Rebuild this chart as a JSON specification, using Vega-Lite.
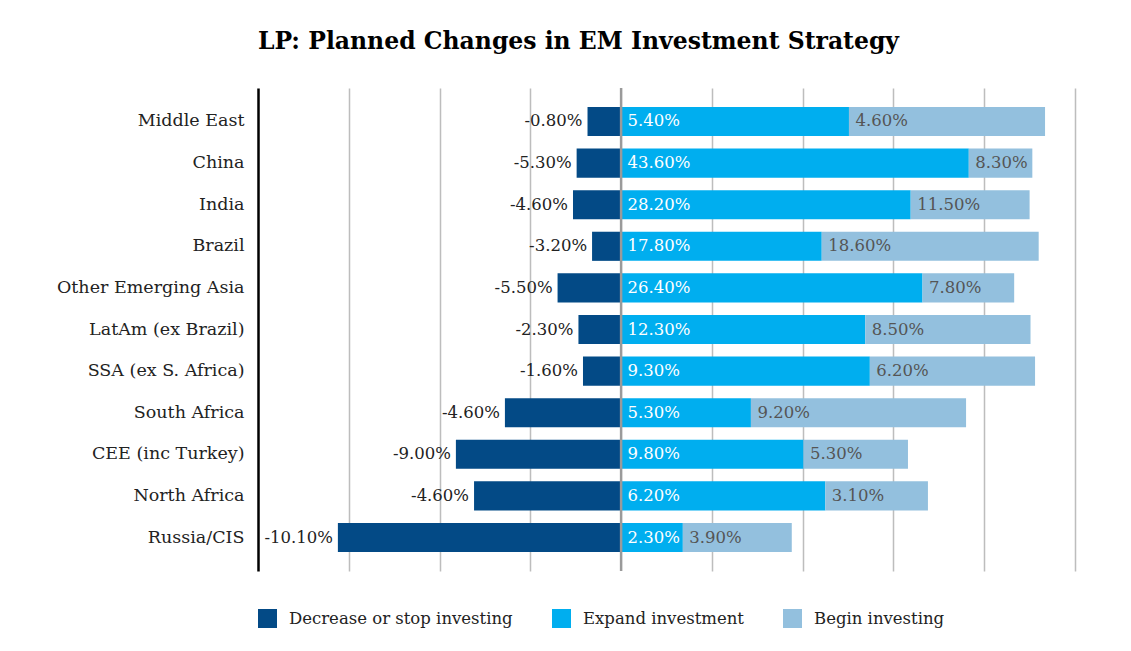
{
  "$schema": "https://vega.github.io/schema/vega-lite/v6.json",
  "autosize": {"type": "none"},
  "padding": {"left": 258, "top": 88, "right": 56, "bottom": 80},
  "width": 817,
  "height": 483,
  "background": "white",
  "title": {
    "text": "LP: Planned Changes in EM Investment Strategy",
    "anchor": "start",
    "frame": "group",
    "font": "DejaVu Serif",
    "fontSize": 23.5,
    "fontWeight": "bold",
    "color": "#000000",
    "baseline": "alphabetic",
    "offset": 14
  },
  "config": {
    "view": {"stroke": null},
    "font": "DejaVu Serif"
  },
  "data": {
    "values": [
      {"region": "Middle East", "series": "Decrease or stop investing", "order": 1, "value": -3.7, "label": "-0.80%"},
      {"region": "Middle East", "series": "Expand investment", "order": 2, "value": 25.1, "label": "5.40%"},
      {"region": "Middle East", "series": "Begin investing", "order": 3, "value": 21.6, "label": "4.60%"},
      {"region": "China", "series": "Decrease or stop investing", "order": 1, "value": -4.9, "label": "-5.30%"},
      {"region": "China", "series": "Expand investment", "order": 2, "value": 38.3, "label": "43.60%"},
      {"region": "China", "series": "Begin investing", "order": 3, "value": 7.0, "label": "8.30%"},
      {"region": "India", "series": "Decrease or stop investing", "order": 1, "value": -5.3, "label": "-4.60%"},
      {"region": "India", "series": "Expand investment", "order": 2, "value": 31.9, "label": "28.20%"},
      {"region": "India", "series": "Begin investing", "order": 3, "value": 13.1, "label": "11.50%"},
      {"region": "Brazil", "series": "Decrease or stop investing", "order": 1, "value": -3.2, "label": "-3.20%"},
      {"region": "Brazil", "series": "Expand investment", "order": 2, "value": 22.1, "label": "17.80%"},
      {"region": "Brazil", "series": "Begin investing", "order": 3, "value": 23.9, "label": "18.60%"},
      {"region": "Other Emerging Asia", "series": "Decrease or stop investing", "order": 1, "value": -7.0, "label": "-5.50%"},
      {"region": "Other Emerging Asia", "series": "Expand investment", "order": 2, "value": 33.2, "label": "26.40%"},
      {"region": "Other Emerging Asia", "series": "Begin investing", "order": 3, "value": 10.1, "label": "7.80%"},
      {"region": "LatAm (ex Brazil)", "series": "Decrease or stop investing", "order": 1, "value": -4.7, "label": "-2.30%"},
      {"region": "LatAm (ex Brazil)", "series": "Expand investment", "order": 2, "value": 26.9, "label": "12.30%"},
      {"region": "LatAm (ex Brazil)", "series": "Begin investing", "order": 3, "value": 18.2, "label": "8.50%"},
      {"region": "SSA (ex S. Africa)", "series": "Decrease or stop investing", "order": 1, "value": -4.2, "label": "-1.60%"},
      {"region": "SSA (ex S. Africa)", "series": "Expand investment", "order": 2, "value": 27.4, "label": "9.30%"},
      {"region": "SSA (ex S. Africa)", "series": "Begin investing", "order": 3, "value": 18.2, "label": "6.20%"},
      {"region": "South Africa", "series": "Decrease or stop investing", "order": 1, "value": -12.8, "label": "-4.60%"},
      {"region": "South Africa", "series": "Expand investment", "order": 2, "value": 14.3, "label": "5.30%"},
      {"region": "South Africa", "series": "Begin investing", "order": 3, "value": 23.7, "label": "9.20%"},
      {"region": "CEE (inc Turkey)", "series": "Decrease or stop investing", "order": 1, "value": -18.2, "label": "-9.00%"},
      {"region": "CEE (inc Turkey)", "series": "Expand investment", "order": 2, "value": 20.1, "label": "9.80%"},
      {"region": "CEE (inc Turkey)", "series": "Begin investing", "order": 3, "value": 11.5, "label": "5.30%"},
      {"region": "North Africa", "series": "Decrease or stop investing", "order": 1, "value": -16.2, "label": "-4.60%"},
      {"region": "North Africa", "series": "Expand investment", "order": 2, "value": 22.5, "label": "6.20%"},
      {"region": "North Africa", "series": "Begin investing", "order": 3, "value": 11.3, "label": "3.10%"},
      {"region": "Russia/CIS", "series": "Decrease or stop investing", "order": 1, "value": -31.2, "label": "-10.10%"},
      {"region": "Russia/CIS", "series": "Expand investment", "order": 2, "value": 6.8, "label": "2.30%"},
      {"region": "Russia/CIS", "series": "Begin investing", "order": 3, "value": 12.0, "label": "3.90%"}
    ]
  },
  "transform": [
    {"stack": "value", "groupby": ["region"], "sort": [{"field": "order", "order": "ascending"}], "as": ["x0", "x1"], "offset": "zero"}
  ],
  "encoding": {
    "y": {
      "field": "region",
      "type": "nominal",
      "sort": null,
      "scale": {"paddingInner": 0.3, "paddingOuter": 0.455},
      "axis": {
        "title": null,
        "ticks": false,
        "domainColor": "#000000",
        "domainWidth": 2.5,
        "labelPadding": 14,
        "labelFontSize": 17.5,
        "labelColor": "#222222",
        "labelFont": "DejaVu Serif",
        "labelLimit": 0
      }
    }
  },
  "layer": [
    {
      "mark": {"type": "bar"},
      "encoding": {
        "x": {
          "field": "x0",
          "type": "quantitative",
          "scale": {"domain": [-40, 50], "nice": false, "zero": false},
          "axis": {
            "title": null,
            "values": [-30, -20, -10, 10, 20, 30, 40, 50],
            "grid": true,
            "gridColor": "#bdbdbd",
            "gridWidth": 1.5,
            "labels": false,
            "ticks": false,
            "domain": false
          }
        },
        "x2": {"field": "x1"},
        "color": {
          "field": "series",
          "type": "nominal",
          "scale": {
            "domain": ["Decrease or stop investing", "Expand investment", "Begin investing"],
            "range": ["#034a86", "#00aeef", "#93c0de"]
          },
          "legend": {
            "title": null,
            "orient": "none",
            "legendX": 0,
            "legendY": 521,
            "direction": "horizontal",
            "symbolType": "square",
            "symbolSize": 361,
            "symbolStrokeWidth": 0,
            "labelFontSize": 16.5,
            "labelFont": "DejaVu Serif",
            "labelColor": "#222222",
            "labelOffset": 12,
            "labelLimit": 0,
            "columnPadding": 39,
            "padding": 0
          }
        }
      }
    },
    {
      "data": {"values": [{"zero": 0}]},
      "mark": {"type": "rule", "color": "#9a9a9a", "strokeWidth": 2.5},
      "encoding": {
        "x": {"field": "zero", "type": "quantitative"},
        "y": null
      }
    },
    {
      "transform": [{"filter": "datum.series === 'Decrease or stop investing'"}],
      "mark": {"type": "text", "align": "right", "baseline": "middle", "dx": -5, "fontSize": 16.5, "font": "DejaVu Serif", "color": "#222222"},
      "encoding": {
        "x": {"field": "x1", "type": "quantitative"},
        "text": {"field": "label"}
      }
    },
    {
      "transform": [{"filter": "datum.series !== 'Decrease or stop investing'"}],
      "mark": {"type": "text", "align": "left", "baseline": "middle", "dx": 6.5, "fontSize": 16.5, "font": "DejaVu Serif"},
      "encoding": {
        "x": {"field": "x0", "type": "quantitative"},
        "text": {"field": "label"},
        "color": {
          "condition": {"test": "datum.series === 'Expand investment'", "value": "#ffffff"},
          "value": "#555555"
        }
      }
    }
  ]
}
